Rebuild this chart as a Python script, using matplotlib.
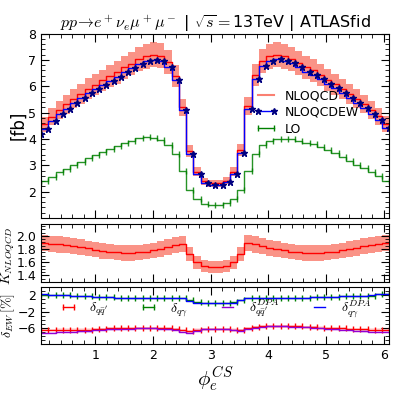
import numpy as np
import matplotlib
matplotlib.use("Agg")
import matplotlib.pyplot as plt
from matplotlib.ticker import MultipleLocator, FormatStrFormatter
from matplotlib.lines import Line2D

plt.rcParams["mathtext.fontset"] = "cm"

# bin centres of phi_e^CS (50 bins over 2pi, last one not shown)
phi = (np.arange(49) + 0.5) * 2 * np.pi / 50

nlo_qcd = [4.36, 4.55, 4.84, 5.10, 5.31, 5.52, 5.71, 5.91, 6.05, 6.22,
           6.38, 6.53, 6.72, 6.86, 7.03, 7.14, 7.19, 7.15, 6.92, 6.40,
           5.20, 3.55, 2.76, 2.39, 2.31, 2.31, 2.42, 2.76, 3.58, 5.24,
           6.42, 6.95, 7.14, 7.20, 7.14, 7.04, 6.89, 6.72, 6.60, 6.42,
           6.24, 6.08, 5.90, 5.71, 5.52, 5.32, 5.10, 4.86, 4.58]
nlo_qcd_ew = [4.20, 4.39, 4.68, 4.94, 5.14, 5.35, 5.54, 5.73, 5.88, 6.05,
              6.21, 6.36, 6.54, 6.68, 6.85, 6.96, 7.01, 6.97, 6.74, 6.24,
              5.09, 3.44, 2.68, 2.33, 2.26, 2.26, 2.36, 2.68, 3.47, 5.13,
              6.26, 6.78, 6.96, 7.03, 6.97, 6.87, 6.72, 6.55, 6.43, 6.26,
              6.08, 5.92, 5.73, 5.54, 5.35, 5.16, 4.94, 4.71, 4.43]
lo = [2.31, 2.41, 2.57, 2.73, 2.85, 3.00, 3.12, 3.27, 3.38, 3.51,
      3.63, 3.73, 3.86, 3.94, 4.02, 4.06, 4.04, 3.97, 3.78, 3.44,
      2.77, 2.06, 1.73, 1.55, 1.51, 1.51, 1.57, 1.73, 2.08, 2.77,
      3.43, 3.76, 3.92, 4.00, 4.01, 4.00, 3.94, 3.86, 3.79, 3.69,
      3.57, 3.45, 3.31, 3.17, 3.03, 2.89, 2.74, 2.59, 2.42]

k_nloqcd = [1.89, 1.89, 1.88, 1.87, 1.86, 1.84, 1.83, 1.81, 1.79, 1.77,
            1.76, 1.75, 1.74, 1.74, 1.75, 1.76, 1.78, 1.80, 1.83, 1.86,
            1.88, 1.72, 1.60, 1.54, 1.53, 1.53, 1.54, 1.60, 1.72, 1.89,
            1.87, 1.85, 1.82, 1.80, 1.78, 1.76, 1.75, 1.74, 1.74, 1.74,
            1.75, 1.76, 1.78, 1.80, 1.82, 1.84, 1.86, 1.88, 1.89]
# relative scale uncertainty of the NLO QCD band
scale_unc = [0.066, 0.066, 0.066, 0.066, 0.066, 0.066, 0.066, 0.066, 0.066, 0.066,
             0.066, 0.066, 0.066, 0.066, 0.066, 0.066, 0.066, 0.066, 0.066, 0.066,
             0.064, 0.062, 0.060, 0.060, 0.060, 0.060, 0.060, 0.060, 0.062, 0.064,
             0.066, 0.066, 0.066, 0.066, 0.066, 0.066, 0.066, 0.066, 0.066, 0.066,
             0.066, 0.066, 0.066, 0.066, 0.066, 0.066, 0.066, 0.066, 0.066]

d_qq = [-6.4, -6.5, -6.5, -6.4, -6.4, -6.4, -6.4, -6.4, -6.2, -6.2,
        -6.1, -6.1, -6.1, -6.0, -6.0, -6.0, -6.0, -6.0, -6.1, -6.2,
        -6.5, -6.8, -6.4, -6.2, -6.2, -6.2, -6.2, -6.4, -6.5, -6.1,
        -5.8, -5.6, -5.5, -5.5, -5.5, -5.6, -5.6, -5.7, -5.8, -5.9,
        -6.0, -6.0, -6.1, -6.2, -6.2, -6.3, -6.4, -6.4, -6.5]
d_qq_dpa = [-7.0, -7.2, -7.2, -7.0, -7.0, -6.9, -6.8, -6.8, -6.5, -6.4,
            -6.3, -6.3, -6.2, -6.2, -6.1, -6.1, -6.1, -6.2, -6.3, -6.4,
            -6.9, -7.2, -6.6, -6.3, -6.2, -6.2, -6.3, -6.5, -6.6, -6.2,
            -5.9, -5.7, -5.6, -5.6, -5.6, -5.7, -5.7, -5.8, -5.9, -6.0,
            -6.2, -6.3, -6.4, -6.5, -6.6, -6.8, -6.9, -7.0, -7.0]
d_qg = [2.1, 2.1, 2.1, 2.0, 2.0, 1.8, 1.8, 1.7, 1.6, 1.6,
        1.5, 1.4, 1.4, 1.4, 1.4, 1.4, 1.4, 1.4, 1.4, 1.4,
        1.4, 0.8, 0.3, 0.2, 0.2, 0.2, 0.2, 0.3, 0.9, 1.4,
        1.4, 1.4, 1.4, 1.4, 1.4, 1.4, 1.4, 1.4, 1.5, 1.6,
        1.6, 1.6, 1.7, 1.7, 1.8, 1.9, 1.9, 2.2, 2.2]
d_qg_dpa = [2.2, 2.2, 2.1, 2.1, 2.0, 1.8, 1.8, 1.7, 1.6, 1.6,
            1.5, 1.4, 1.4, 1.4, 1.4, 1.4, 1.4, 1.4, 1.4, 1.4,
            1.4, 0.7, 0.2, 0.1, 0.1, 0.1, 0.1, 0.2, 0.8, 1.4,
            1.4, 1.4, 1.4, 1.4, 1.4, 1.4, 1.4, 1.4, 1.5, 1.6,
            1.6, 1.6, 1.7, 1.7, 1.8, 1.9, 2.0, 2.3, 2.3]

nlo = np.array(nlo_qcd)
unc = np.array(scale_unc)
kf = np.array(k_nloqcd)

fig = plt.figure(figsize=(3.99, 3.99), dpi=100)
ax1 = fig.add_axes([0.103, 0.4536, 0.873, 0.4624])
ax2 = fig.add_axes([0.103, 0.2932, 0.873, 0.1454])
ax3 = fig.add_axes([0.103, 0.1366, 0.873, 0.1441])

# --- main panel
ax1.fill_between(phi, nlo * (1 - unc), nlo * (1 + unc), step="pre",
                 color="salmon", alpha=0.85, lw=0)
ax1.plot(phi, nlo, drawstyle="steps-pre", color="red", lw=1)
ax1.plot(phi, nlo_qcd_ew, drawstyle="steps-pre", color="blue", lw=1,
         marker="*", ms=5, mfc="navy", mec="navy")
ax1.plot(phi, lo, drawstyle="steps-pre", color="green", lw=1,
         marker="|", ms=5, alpha=0.85)

handles = [Line2D([], [], color="salmon", lw=1.5),
           Line2D([], [], color="blue", lw=1, marker="*", ms=5, mfc="navy", mec="navy"),
           Line2D([], [], color="green", lw=1, marker="|", ms=5)]
ax1.legend(handles, ["NLOQCD", "NLOQCDEW", "LO"], loc="upper left",
           bbox_to_anchor=(0.58, 0.76), frameon=False, fontsize=9,
           numpoints=2, handlelength=1.9, handletextpad=0.5, labelspacing=0.3)
ax1.set_ylim(1, 8)
ax1.set_yticks([2, 3, 4, 5, 6, 7, 8])
ax1.set_ylabel("[fb]", fontsize=12)
ax1.yaxis.set_label_coords(-0.04, 0.5)
ax1.set_title(r"$pp\!\rightarrow\! e^+\nu_e\mu^+\mu^-$ | $\sqrt{s}=$13TeV | ATLASfid",
              fontsize=11.5, pad=4)
ax1.yaxis.set_minor_locator(MultipleLocator(0.2))

# --- K-factor panel
ax2.fill_between(phi, kf * (1 - unc), kf * (1 + unc), step="pre",
                 color="salmon", alpha=0.85, lw=0)
ax2.plot(phi, kf, drawstyle="steps-pre", color="red", lw=1)
ax2.set_ylim(1.3, 2.18)
ax2.set_ylabel(r"$K_{NLOQCD}$", fontsize=10)
ax2.yaxis.set_label_coords(-0.068, 0.45)
ax2.yaxis.set_major_locator(MultipleLocator(0.2))
ax2.yaxis.set_minor_locator(MultipleLocator(0.05))
ax2.yaxis.set_major_formatter(FormatStrFormatter("%.1f"))

# --- EW corrections panel
ax3.plot(phi, d_qq, drawstyle="steps-pre", color="red", lw=1, marker="|", ms=5,
         label=r"$\delta_{q\bar{q}'}$")
ax3.plot(phi, d_qg, drawstyle="steps-pre", color="green", lw=1, marker="|", ms=5,
         label=r"$\delta_{q\gamma}$")
ax3.plot(phi, d_qq_dpa, drawstyle="steps-pre", color="darkviolet", lw=1,
         label=r"$\delta_{q\bar{q}'}^{DPA}$")
ax3.plot(phi, d_qg_dpa, drawstyle="steps-pre", color="blue", lw=1,
         label=r"$\delta_{q\gamma}^{DPA}$")
ax3.fill_between(phi, np.array(d_qq) - 0.3, np.array(d_qq) + 0.3, step="pre",
                 color="red", alpha=0.12, lw=0)
ax3.fill_between(phi, np.array(d_qq_dpa) - 0.3, np.array(d_qq_dpa) + 0.3, step="pre",
                 color="darkviolet", alpha=0.12, lw=0)
ax3.legend(loc="center", bbox_to_anchor=(0.5, 0.62), ncol=4, frameon=False,
           fontsize=10, numpoints=2, handlelength=1.4, columnspacing=2.2,
           handletextpad=0.8)
ax3.set_ylim(-10, 4)
ax3.set_yticks([-6, -2, 2])
ax3.yaxis.set_minor_locator(MultipleLocator(1))
ax3.set_ylabel(r"$\delta_{EW}\,[\%]$", fontsize=10)
ax3.yaxis.set_label_coords(-0.07, 0.5)
ax3.set_xlabel(r"$\phi_e^{CS}$", fontsize=15, labelpad=1)

for ax in (ax1, ax2, ax3):
    ax.set_xlim(phi[0], phi[-1])
    ax.xaxis.set_major_locator(MultipleLocator(1))
    ax.xaxis.set_minor_locator(MultipleLocator(0.2))
    ax.tick_params(which="both", direction="in", top=True, right=True, labelsize=9)
    ax.tick_params(which="major", length=6)
    ax.tick_params(which="minor", length=3)
for ax in (ax1, ax2):
    ax.tick_params(labelbottom=False)

fig.savefig("out.png", dpi=100)
